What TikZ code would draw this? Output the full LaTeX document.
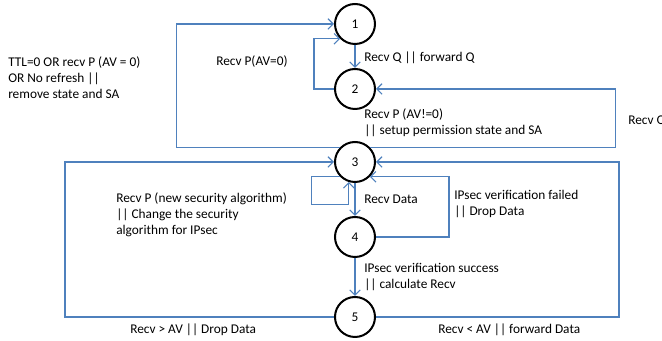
\documentclass[tikz,border=0pt]{standalone}
\usepackage{fontspec}
\setmainfont{Carlito}
\usetikzlibrary{arrows.meta}
\definecolor{linkblue}{RGB}{79,129,189}

\begin{document}
\begin{tikzpicture}[x=0.75pt, y=-0.75pt,
		stnode/.style={draw, circle, line width=1.5pt, minimum size=30pt, inner sep=0pt, font=\fontsize{10}{12}\selectfont},
		flow/.style={draw=linkblue, line width=0.8pt, -{Straight Barb[length=4pt, width=8pt]}},
		lbl/.style={anchor=west, align=left, inner sep=0pt, font=\fontsize{10}{12}\selectfont}]
							\useasboundingbox (0,0) rectangle (662,341);
							
							\node[stnode] (n1) at (355,24) {1};
							\node[stnode] (n2) at (355,89) {2};
							\node[stnode] (n3) at (355,162) {3};
							\node[stnode] (n4) at (355,237) {4};
							\node[stnode] (n5) at (355,317) {5};
							
							\draw[flow] (n1) -- (n2);
							\draw[flow] (n2.west) -- ++(-20,0) |- (n1.south west);
							\draw[flow] (n3.north west) -- ++(-164,0) |- (n1);
							\draw[flow] (n3.north east) -- ++(246,0) |- (n2);
							\draw[flow] (n3.south west) -- ++(-29,0) -- ++(0,28) -| (n3.253);
							\draw[flow] (n3) -- (n4);
							\draw[flow] (n4.east) -- ++(73,0) |- (n3.south east);
							\draw[flow] (n4) -- (n5);
							\draw[flow] (n5.west) -- ++(-269,0) |- (n3);
							\draw[flow] (n5.east) -- ++(243,0) |- (n3);
							
							\node[lbl] (ttl) at (8,78) {TTL=0 OR recv P (AV = 0)\\OR No refresh ||\\remove state and SA};
							\node[lbl] (avzero) at (216,62) {Recv P(AV=0)};
							\node[lbl] (fwdq) at (364,58) {Recv Q || forward Q};
							\node[lbl] (setup) at (364,123) {Recv P (AV!=0)\\|| setup permission state and SA};
							\node[lbl] (recvq) at (628,121) {Recv Q};
							\node[lbl] (newalg) at (116,215) {Recv P (new security algorithm)\\|| Change the security\\algorithm for IPsec};
							\node[lbl] (data) at (364,199) {Recv Data};
							\node[lbl] (failed) at (454,204) {IPsec verification failed\\|| Drop Data};
							\node[lbl] (success) at (364,277) {IPsec verification success\\|| calculate Recv};
							\node[lbl] (drop) at (130,330) {Recv > AV || Drop Data};
							\node[lbl] (fwddata) at (438,330) {Recv < AV || forward Data};
						\end{tikzpicture}
\end{document}
